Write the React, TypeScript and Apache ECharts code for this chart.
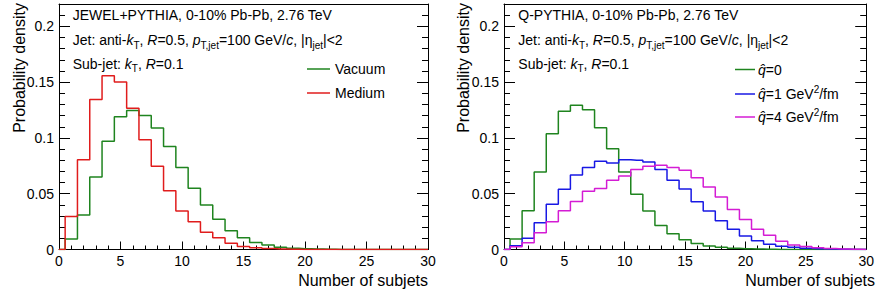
import React, { useEffect, useRef } from 'react';
import * as echarts from 'echarts';

// Bin centres (number of subjets)
const binCentres = [0, 1, 2, 3, 4, 5, 6, 7, 8, 9, 10, 11, 12, 13, 14, 15, 16, 17, 18, 19, 20, 21, 22, 23, 24, 25, 26, 27, 28, 29, 30];

// Left panel: JEWEL+PYTHIA
const jewelVacuum = [0, 0.0093, 0.031, 0.065, 0.097, 0.119, 0.1245, 0.12, 0.1088, 0.0924, 0.0734, 0.055, 0.0398, 0.0272, 0.0168, 0.0105, 0.0063, 0.004, 0.0021, 0.0012, 0.0007, 0.0004, 0.0002, 0.0001, 0, 0, 0, 0, 0, 0, 0];
const jewelMedium = [0, 0.0295, 0.0805, 0.1345, 0.1558, 0.15, 0.1266, 0.0984, 0.0746, 0.0527, 0.0344, 0.0248, 0.0154, 0.0105, 0.0055, 0.0028, 0.0015, 0.0008, 0.0004, 0.0002, 0.0001, 0, 0, 0, 0, 0, 0, 0, 0, 0, 0];

// Right panel: Q-PYTHIA
const qhat0 = [0, 0.0094, 0.0347, 0.0695, 0.1037, 0.124, 0.1293, 0.1252, 0.109, 0.0903, 0.0695, 0.0495, 0.0346, 0.0215, 0.0142, 0.0088, 0.0053, 0.0031, 0.002, 0.0012, 0.0007, 0.0004, 0.0002, 0.0001, 0, 0, 0, 0, 0, 0, 0];
const qhat1 = [0, 0.0034, 0.01, 0.024, 0.0406, 0.0541, 0.0668, 0.0734, 0.079, 0.0775, 0.0805, 0.0799, 0.0784, 0.0716, 0.062, 0.0543, 0.0427, 0.0344, 0.0257, 0.0181, 0.012, 0.0078, 0.0048, 0.003, 0.002, 0.0012, 0.0007, 0.0004, 0.0002, 0.0001, 0];
const qhat4 = [0, 0.0025, 0.006, 0.015, 0.0248, 0.0347, 0.043, 0.0523, 0.0546, 0.062, 0.0659, 0.0716, 0.0746, 0.0754, 0.0734, 0.071, 0.0644, 0.056, 0.047, 0.0359, 0.0268, 0.0182, 0.0128, 0.0073, 0.004, 0.0026, 0.0016, 0.0008, 0.0004, 0.0002, 0];

const xTickLabels = ['0', '5', '10', '15', '20', '25', '30'];
const yTickLabels = ['0', '0.05', '0.1', '0.15', '0.2'];

const FONT = '"Liberation Sans", Arial, Helvetica, sans-serif';
const GREEN = '#1f841f';
const RED = '#e01c1c';
const BLUE = '#1818e4';
const MAGENTA = '#d41cd4';

const RICH: any = {
  i: { fontStyle: 'italic', fontSize: 14, fontFamily: FONT, fill: '#000', lineHeight: 20 },
  s: { fontSize: 10, fontFamily: FONT, fill: '#000', lineHeight: 12, verticalAlign: 'bottom' },
  u: { fontSize: 10, fontFamily: FONT, fill: '#000', lineHeight: 12, verticalAlign: 'top' },
};

function xAxes(g: number) {
  const base = (pos: string, interval: number, len: number, labels: boolean, line: boolean, ticks: boolean) => ({
    type: 'value',
    gridIndex: g,
    position: pos,
    min: 0,
    max: 30,
    interval,
    axisLine: { show: line, onZero: false, lineStyle: { color: '#000', width: 1 } },
    axisTick: { show: ticks, inside: true, length: len, lineStyle: { color: '#000', width: 1 } },
    axisLabel: {
      show: labels,
      margin: 4,
      fontSize: 14,
      fontFamily: FONT,
      color: '#000',
      formatter: (v: number) => {
        const idx = Math.round(v / 5);
        return xTickLabels[idx] ?? '';
      },
    },
    splitLine: { show: false },
  });
  return [
    base('bottom', 5, 8, true, true, true),
    base('bottom', 1, 4, false, false, true),
    base('top', 5, 8, false, true, false),
  ];
}

function yAxes(g: number) {
  const base = (pos: string, interval: number, len: number, labels: boolean, line: boolean) => ({
    type: 'value',
    gridIndex: g,
    position: pos,
    min: 0,
    max: 0.22,
    interval,
    axisLine: { show: line, onZero: false, lineStyle: { color: '#000', width: 1 } },
    axisTick: { show: true, inside: true, length: len, lineStyle: { color: '#000', width: 1 } },
    axisLabel: {
      show: labels,
      margin: 5,
      showMaxLabel: false,
      fontSize: 14,
      fontFamily: FONT,
      color: '#000',
      formatter: (v: number) => {
        const idx = Math.round(v / 0.05);
        if (Math.abs(v - idx * 0.05) > 1e-6) return '';
        return yTickLabels[idx] ?? '';
      },
    },
    splitLine: { show: false },
  });
  return [
    base('left', 0.05, 11, true, true),
    base('left', 0.01, 6, false, false),
    base('right', 0.05, 11, false, true),
    base('right', 0.01, 6, false, false),
  ];
}

function stepSeries(name: string, values: number[], color: string, g: number) {
  return {
    name,
    type: 'line',
    step: 'middle',
    xAxisIndex: g * 3,
    yAxisIndex: g * 4,
    symbol: 'none',
    showSymbol: false,
    clip: true,
    lineStyle: { color, width: 1.5 },
    itemStyle: { color },
    data: binCentres.map((x, i) => [x, values[i]]),
  };
}

function plainText(x: number, y: number, text: string, extra: any = {}, rotation = 0) {
  return {
    type: 'text',
    x,
    y,
    rotation,
    style: {
      text,
      fontSize: 14,
      fontFamily: FONT,
      fill: '#000',
      align: 'left',
      verticalAlign: 'middle',
      ...extra,
    },
  };
}

function richText(x: number, y: number, text: string) {
  return {
    type: 'text',
    x,
    y,
    style: {
      text,
      rich: RICH,
      fontSize: 14,
      fontFamily: FONT,
      fill: '#000',
      lineHeight: 20,
      align: 'left',
      verticalAlign: 'middle',
    },
  };
}

function legendLine(x1: number, x2: number, y: number, color: string) {
  return {
    type: 'line',
    shape: { x1, y1: y, x2, y2: y },
    style: { stroke: color, lineWidth: 1.5 },
  };
}

export default function App() {
  const ref = useRef<HTMLDivElement>(null);
  useEffect(() => {
    if (!ref.current) return;
    const chart = echarts.init(ref.current, undefined, { renderer: 'svg' });
    const jetLine = 'Jet: anti-{i|k}{s|T}, {i|R}=0.5, {i|p}{s|T,jet}=100 GeV/{i|c}, |η{s|jet}|<2';
    const subLine = 'Sub-jet: {i|k}{s|T}, {i|R}=0.1';
    const titleStyle = { fontSize: 16, align: 'right', verticalAlign: 'middle' };
    const option: any = {
      animation: false,
      backgroundColor: '#ffffff',
      grid: [
        { left: 59, top: 4, width: 369, bottom: 45.5, containLabel: false },
        { left: 504, top: 4, width: 369, bottom: 45.5, containLabel: false },
      ],
      xAxis: [...xAxes(0), ...xAxes(1)],
      yAxis: [...yAxes(0), ...yAxes(1)],
      series: [
        stepSeries('Vacuum', jewelVacuum, GREEN, 0),
        stepSeries('Medium', jewelMedium, RED, 0),
        stepSeries('q0', qhat0, GREEN, 1),
        stepSeries('q1', qhat1, BLUE, 1),
        stepSeries('q4', qhat4, MAGENTA, 1),
      ],
      graphic: [
        // left panel texts
        plainText(72.7, 15, 'JEWEL+PYTHIA, 0-10% Pb-Pb, 2.76 TeV'),
        richText(72.7, 40, jetLine),
        richText(72.7, 63.5, subLine),
        legendLine(307, 330, 69, GREEN),
        plainText(335, 69, 'Vacuum'),
        legendLine(307, 330, 93, RED),
        plainText(335, 93, 'Medium'),
        plainText(19, 3, 'Probability density', titleStyle, Math.PI / 2),
        plainText(428, 280, 'Number of subjets', titleStyle),
        // right panel texts
        plainText(518.3, 15, 'Q-PYTHIA, 0-10% Pb-Pb, 2.76 TeV'),
        richText(518.3, 40, jetLine),
        richText(518.3, 63.5, subLine),
        legendLine(735, 755, 69.5, GREEN),
        richText(758, 69.5, '{i|q̂}=0'),
        legendLine(735, 755, 94, BLUE),
        richText(758, 94, '{i|q̂}=1 GeV{u|2}/fm'),
        legendLine(735, 755, 117, MAGENTA),
        richText(758, 117, '{i|q̂}=4 GeV{u|2}/fm'),
        plainText(463, 3, 'Probability density', titleStyle, Math.PI / 2),
        plainText(875, 280, 'Number of subjets', titleStyle),
      ],
    };
    chart.setOption(option);
    return () => chart.dispose();
  }, []);
  return (
    <div
      ref={ref}
      style={{ position: 'fixed', left: 0, top: 0, width: 877, height: 295, background: '#fff' }}
    />
  );
}
